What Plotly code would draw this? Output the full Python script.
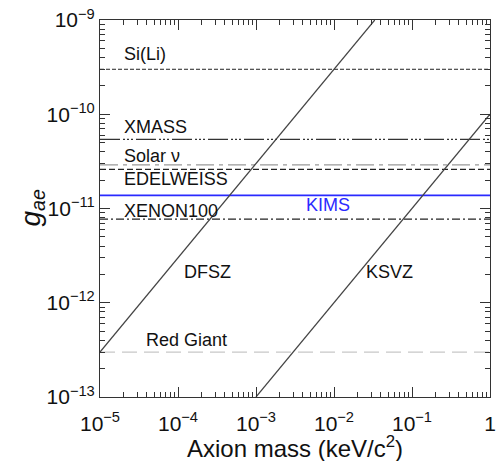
import math
import plotly.graph_objects as go

# ---- data ----
mass_range = [1e-5, 1.0]
limit_names = ["Si(Li)", "XMASS", "Solar ν", "EDELWEISS", "KIMS", "XENON100", "Red Giant"]
limit_values = [3.0e-10, 5.4e-11, 2.9e-11, 2.6e-11, 1.38e-11, 7.7e-12, 3.0e-13]

dfsz_mass = [1e-5, 3.33e-2]
dfsz_g = [3.0e-13, 1.0e-9]
ksvz_mass = [1.0e-3, 1.0]
ksvz_g = [1.0e-13, 1.0e-10]

x_tickvals = [1e-5, 1e-4, 1e-3, 1e-2, 1e-1, 1]
x_ticktext = ["10<sup>−5</sup>", "10<sup>−4</sup>", "10<sup>−3</sup>", "10<sup>−2</sup>", "10<sup>−1</sup>", "1"]
y_tickvals = [1e-13, 1e-12, 1e-11, 1e-10, 1e-9]
y_ticktext = ["10<sup>−13</sup>", "10<sup>−12</sup>", "10<sup>−11</sup>", "10<sup>−10</sup>", "10<sup>−9</sup>"]
minor_digits = [2, 3, 4, 5, 6, 7, 8, 9]
x_title = "Axion mass (keV/c<sup>2</sup>)"
y_title = "<i>g</i><sub><i>ae</i></sub>"

styles = {
    "Si(Li)": dict(color="#222", width=1, dash="4px,2px"),
    "XMASS": dict(color="#333", width=1.2, dash="20px,3px,2px,2px,2px,2px,2px,3px"),
    "Solar ν": dict(color="#999", width=1.2, dash="18px,5px,4px,5px"),
    "EDELWEISS": dict(color="#222", width=1.2, dash="6px,3px"),
    "KIMS": dict(color="#2a2aff", width=1.8, dash="solid"),
    "XENON100": dict(color="#222", width=1.2, dash="8px,3px,2px,3px"),
    "Red Giant": dict(color="#c8c8c8", width=1.2, dash="15px,7px"),
}

fig = go.Figure()
for name, val in zip(limit_names, limit_values):
    fig.add_trace(go.Scatter(x=mass_range, y=[val, val], mode="lines",
                             line=styles[name], showlegend=False, hoverinfo="skip"))

fig.add_trace(go.Scatter(x=dfsz_mass, y=dfsz_g, mode="lines",
                         line=dict(color="#444", width=1.2), showlegend=False))
fig.add_trace(go.Scatter(x=ksvz_mass, y=ksvz_g, mode="lines",
                         line=dict(color="#444", width=1.2), showlegend=False))

font_fam = "Liberation Sans, Arial, sans-serif"
label_pos = [
    ("Si(Li)", 1.9e-5, 3.0e-10, "left", "#111", 18, 15),
    ("XMASS", 1.9e-5, 5.4e-11, "left", "#111", 18, 12),
    ("Solar ν", 1.9e-5, 2.9e-11, "left", "#111", 18, 9),
    ("EDELWEISS", 1.9e-5, 2.6e-11, "left", "#111", 18, -10),
    ("KIMS", 8.4e-3, 1.38e-11, "center", "#2a2aff", 18, -10),
    ("XENON100", 1.9e-5, 7.7e-12, "left", "#111", 18, 8),
    ("DFSZ", 2.36e-4, 2.12e-12, "center", "#111", 18, 0),
    ("KSVZ", 5.2e-2, 2.12e-12, "center", "#111", 18, 0),
    ("Red Giant", 1.3e-4, 3.0e-13, "center", "#111", 18, 12),
]
for txt, xv, yv, anchor, col, size, shift in label_pos:
    fig.add_annotation(x=math.log10(xv), y=math.log10(yv), xref="x", yref="y", text=txt,
                       showarrow=False, xanchor=anchor, yanchor="middle", yshift=shift,
                       font=dict(family=font_fam, size=size, color=col))

# axis titles as paper-anchored text
fig.add_annotation(x=0.5, y=0, xref="paper", yref="paper", text=x_title, showarrow=False,
                   xanchor="center", yanchor="middle", yshift=-50,
                   font=dict(family=font_fam, size=24, color="#111"))
fig.add_annotation(x=0, y=0.5, xref="paper", yref="paper", text=y_title, showarrow=False,
                   xanchor="center", yanchor="middle", xshift=-68, textangle=-90,
                   font=dict(family=font_fam, size=28, color="#111"))

def minor_vals(lo, hi):
    return [d * 10.0 ** e for e in range(lo, hi) for d in minor_digits]

axis_common = dict(
    type="log", showgrid=False, zeroline=False, showline=True, linecolor="#333",
    linewidth=1, mirror="allticks", ticks="inside", ticklen=10, tickcolor="#333",
    tickfont=dict(family=font_fam, size=21, color="#111"), automargin=False,
)

fig.update_xaxes(**axis_common, range=[-5, 0], tickvals=x_tickvals, ticktext=x_ticktext,
                 ticklabelstandoff=8,
                 minor=dict(ticks="inside", ticklen=5, tickcolor="#333", showgrid=False,
                            tickvals=minor_vals(-5, 0)))
fig.update_yaxes(**axis_common, range=[-13, -9], tickvals=y_tickvals, ticktext=y_ticktext,
                 minor=dict(ticks="inside", ticklen=5, tickcolor="#333", showgrid=False,
                            tickvals=minor_vals(-13, -9)))

fig.update_layout(
    width=498, height=461, margin=dict(l=100, r=8, t=20, b=64),
    paper_bgcolor="white", plot_bgcolor="white", showlegend=False,
)

fig.write_html("out.html")
